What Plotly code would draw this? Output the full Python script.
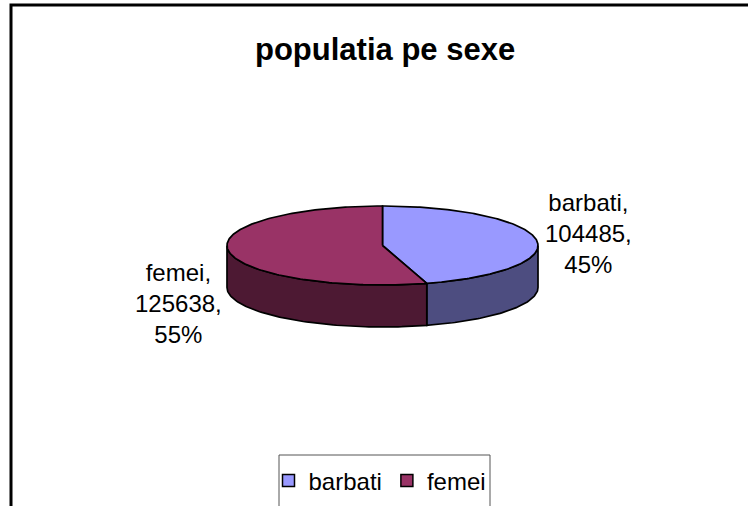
import numpy as np
import plotly.graph_objects as go

# data
categories = ['barbati', 'femei']
values = [104485, 125638]
top_colors = ['#9999FF', '#993366']
side_colors = ['#4D4D80', '#4D1933']
title = 'populatia pe sexe'

FONT = 'Liberation Sans, Arial, sans-serif'

# pie geometry (pixel space, y down)
cx, cy = 382.5, 245.5
a, b = 155.5, 39.5
depth = 42


def pt(phi_deg, dy=0.0):
    p = np.radians(phi_deg)
    return cx + a * np.sin(p), cy - b * np.cos(p) + dy


total = sum(values)
shares = [v / total for v in values]
bounds = np.concatenate([[0], np.cumsum(shares) * 360])

fig = go.Figure()

# side walls (only the front half, 90..270 deg clockwise from top)
for i, cat in enumerate(categories):
    lo, hi = max(bounds[i], 90), min(bounds[i + 1], 270)
    if hi <= lo:
        continue
    ph = np.linspace(lo, hi, 80)
    xt, yt = pt(ph)
    xb, yb = pt(ph[::-1], depth)
    xs = np.concatenate([xt, xb, xt[:1]])
    ys = np.concatenate([yt, yb, yt[:1]])
    fig.add_trace(go.Scatter(x=xs, y=ys, mode='lines', fill='toself',
                             fillcolor=side_colors[i],
                             line=dict(color='black', width=1.7),
                             hoverinfo='skip', showlegend=False))

# top faces
for i, cat in enumerate(categories):
    ph = np.linspace(bounds[i], bounds[i + 1], 200)
    xt, yt = pt(ph)
    xs = np.concatenate([[cx], xt, [cx]])
    ys = np.concatenate([[cy], yt, [cy]])
    fig.add_trace(go.Scatter(x=xs, y=ys, mode='lines', fill='toself',
                             fillcolor=top_colors[i],
                             line=dict(color='black', width=1.7),
                             name=cat, hoverinfo='name', showlegend=False))

# legend entries
for i, cat in enumerate(categories):
    fig.add_trace(go.Scatter(x=[None], y=[None], mode='markers', name=cat,
                             marker=dict(symbol='square', size=12, color=top_colors[i],
                                         line=dict(color='black', width=1.5))))

# data labels
label_pos = [(588, 233), (178, 303)]
for i, cat in enumerate(categories):
    txt = f'{cat},<br>{values[i]},<br>{round(shares[i] * 100)}%'
    fig.add_annotation(x=label_pos[i][0], y=label_pos[i][1], text=txt, showarrow=False,
                       font=dict(family=FONT, size=24, color='black'),
                       align='center', xanchor='center', yanchor='middle')

# title
fig.add_annotation(x=384.5, y=49, text=f'<b>{title}</b>', showarrow=False,
                   font=dict(family=FONT, size=31, color='black'),
                   xanchor='center', yanchor='middle')

# chart frame (left + top edges visible) and legend box (open at the bottom)
fig.add_shape(type='path', path='M 11 520 L 11 5 L 760 5',
              line=dict(color='black', width=3), layer='below')
fig.add_shape(type='path', path='M 279 520 L 279 455 L 490 455 L 490 520',
              line=dict(color='#555555', width=1), layer='below')

fig.update_layout(
    width=748, height=506,
    margin=dict(l=0, r=0, t=0, b=0),
    paper_bgcolor='white', plot_bgcolor='white',
    xaxis=dict(range=[0, 748], visible=False, fixedrange=True),
    yaxis=dict(range=[506, 0], visible=False, fixedrange=True),
    showlegend=True,
    legend=dict(orientation='h', x=380 / 748, y=1 - 481 / 506,
                xanchor='center', yanchor='middle',
                font=dict(family=FONT, size=24, color='black'),
                bgcolor='rgba(0,0,0,0)', borderwidth=0, itemwidth=30),
)

fig.write_html('out.html', config={'displayModeBar': False},
               post_script="document.body.style.margin='0';")
